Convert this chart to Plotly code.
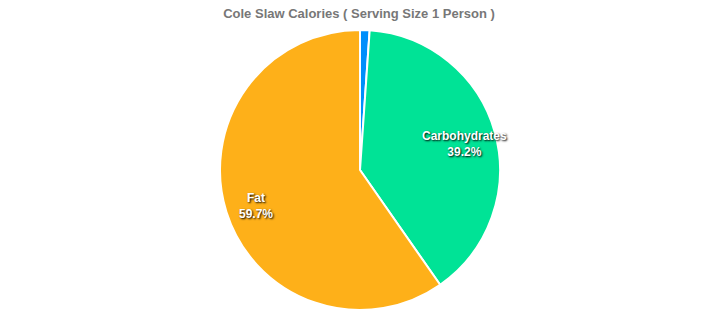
import math
import plotly.graph_objects as go

labels = ["Protein", "Carbohydrates", "Fat"]
values = [1.1, 39.2, 59.7]
colors = ["#008FFB", "#00E396", "#FEB019"]
show_label = [False, True, True]

W, H = 718, 323
cx, cy, r = 360, 170, 140
label_r = 0.775 * r

fig = go.Figure(go.Pie(
    labels=labels,
    values=values,
    sort=False,
    direction="clockwise",
    rotation=0,
    marker=dict(colors=colors, line=dict(color="#ffffff", width=2)),
    textinfo="none",
    hoverinfo="label+percent",
    domain=dict(x=[(cx - r) / W, (cx + r) / W], y=[(H - cy - r) / H, (H - cy + r) / H]),
))

# data labels placed at the middle angle of each slice (clockwise from 12 o'clock)
total = sum(values)
cum = 0.0
for lab, v, show in zip(labels, values, show_label):
    mid = (cum + v / 2) / total * 2 * math.pi
    cum += v
    if not show:
        continue
    px = cx + label_r * math.sin(mid)
    py = cy - label_r * math.cos(mid)
    fig.add_annotation(
        x=px / W, y=1 - py / H, xref="paper", yref="paper",
        text=f"{lab}<br>{v / total * 100:.1f}%",
        showarrow=False, xanchor="center", yanchor="middle", align="center",
        yshift=-3,
        font=dict(family="Liberation Sans, Arial, sans-serif", size=12, color="#ffffff",
                  weight="bold", shadow="1px 1px 2px #000000"),
    )

fig.update_layout(
    width=W, height=H,
    margin=dict(l=0, r=0, t=0, b=0),
    paper_bgcolor="#ffffff",
    showlegend=False,
    title=dict(text="<b>Cole Slaw Calories ( Serving Size 1 Person )</b>",
               x=0.5, xanchor="center", y=1 - 13 / H, yanchor="middle", yref="container",
               font=dict(family="Liberation Sans, Arial, sans-serif", size=13, color="#777777")),
)

fig.write_html("out.html")
